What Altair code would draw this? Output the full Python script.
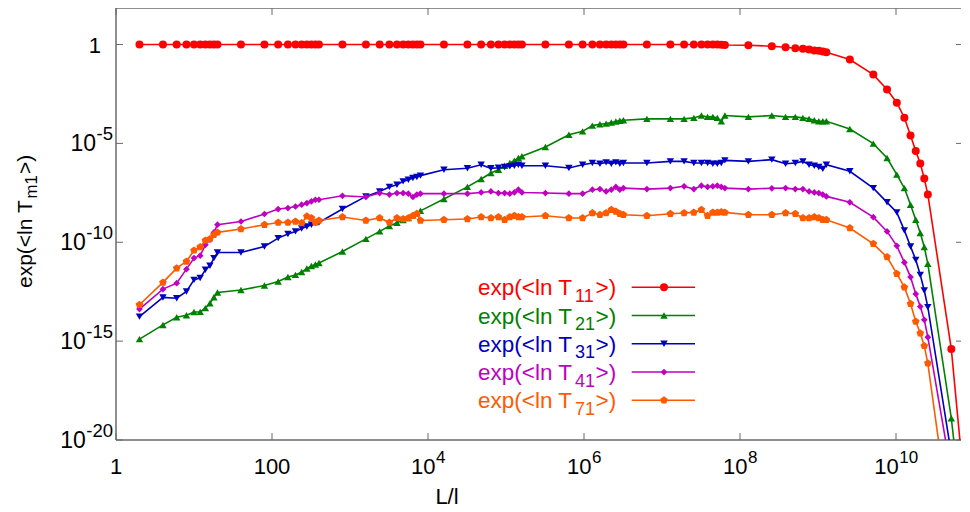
import altair as alt
import pandas as pd

# ---------------- data ----------------
L = [2, 4, 6, 8, 10, 12, 14, 16, 18, 20,
     40, 80, 120, 160, 200, 240, 280, 320, 360, 400,
     800, 1600, 2400, 3200, 4000, 4800, 5600, 6400, 7200, 8000,
     16000, 32000, 48000, 64000, 80000, 96000, 112000, 128000, 144000, 160000,
     320000, 640000, 960000, 1280000, 1600000, 1920000, 2240000, 2560000, 2880000, 3200000,
     6.4e6, 1.28e7, 1.92e7, 2.56e7, 3.2e7, 3.84e7, 4.48e7, 5.12e7, 5.76e7, 6.4e7,
     1.28e8, 2.56e8, 3.84e8, 5.12e8, 6.4e8, 7.68e8, 8.96e8, 1.024e9, 1.152e9, 1.28e9,
     2.56e9, 5.12e9, 7.68e9, 1.024e10, 1.28e10, 1.536e10, 1.792e10, 2.048e10, 2.304e10, 2.56e10,
     5.12e10, 1.024e11]

# log10 of exp(<ln T_m1>)
T11 = [0, 0, 0, 0, 0, 0, 0, 0, 0, 0,
       0, 0, 0, 0, 0, 0, 0, 0, 0, 0,
       0, 0, 0, 0, 0, 0, 0, 0, 0, 0,
       0, 0, 0, 0, 0, 0, 0, 0, 0, 0,
       0, 0, 0, 0, 0, 0, 0, 0, 0, 0,
       0, 0, 0, 0, 0, 0, 0, 0, -0.01, -0.02,
       -0.035, -0.086, -0.136, -0.187, -0.217, -0.25, -0.30, -0.32, -0.35, -0.39,
       -0.76, -1.52, -2.27, -2.94, -3.70, -4.60, -5.39, -6.01, -6.78, -7.58,
       -15.4, -28.0]
T21 = [-14.9, -14.18, -13.79, -13.69, -13.53, -13.52, -13.33, -13.08, -12.78, -12.54,
       -12.41, -12.19, -11.98, -11.76, -11.65, -11.5, -11.33, -11.2, -11.12, -11.05,
       -10.47, -9.83, -9.45, -9.18, -9.01, -8.87, -8.77, -8.63, -8.52, -8.41,
       -7.81, -7.2, -6.8, -6.5, -6.33, -6.13, -5.99, -5.87, -5.74, -5.65,
       -5.18, -4.56, -4.39, -4.10, -4.03, -4.0, -3.94, -3.89, -3.85, -3.83,
       -3.76, -3.76, -3.76, -3.71, -3.59, -3.66, -3.66, -3.71, -3.88, -3.59,
       -3.66, -3.59, -3.66, -3.66, -3.71, -3.76, -3.83, -3.88, -3.88, -3.88,
       -4.27, -5.01, -5.74, -6.58, -7.26, -8.10, -8.86, -9.53, -10.24, -11.09,
       -18.9, -29.5]
T31 = [-13.76, -12.79, -12.83, -12.49, -11.9, -11.81, -11.39, -11.19, -10.8, -10.52,
       -10.52, -10.21, -9.79, -9.58, -9.45, -9.3, -9.2, -9.11, -9.03, -9.0,
       -8.32, -7.68, -7.43, -7.2, -7.09, -6.92, -6.84, -6.75, -6.7, -6.63,
       -6.33, -6.26, -6.08, -6.26, -6.23, -6.19, -6.16, -6.13, -6.08, -6.13,
       -6.13, -6.24, -6.08, -5.99, -6.03, -5.96, -6.03, -5.96, -6.03, -5.99,
       -5.99, -5.91, -5.91, -5.99, -5.99, -5.99, -6.03, -6.03, -5.99, -5.86,
       -5.91, -5.82, -6.03, -5.99, -5.91, -6.08, -6.13, -6.19, -6.29, -6.08,
       -6.41, -7.26, -7.98, -8.49, -9.4, -10.21, -10.89, -11.65, -12.44, -13.28,
       -20.7]
T41 = [-13.38, -12.37, -12.07, -11.36, -10.8, -10.68, -10.13, -9.87, -9.5, -9.11,
       -8.95, -8.57, -8.32, -8.27, -8.19, -8.1, -8.02, -7.93, -7.85, -7.85,
       -7.65, -7.71, -7.51, -7.59, -7.51, -7.51, -7.54, -7.71, -7.59, -7.54,
       -7.54, -7.54, -7.48, -7.43, -7.51, -7.51, -7.54, -7.48, -7.34, -7.48,
       -7.51, -7.54, -7.54, -7.34, -7.31, -7.43, -7.34, -7.2, -7.34, -7.26,
       -7.31, -7.26, -7.17, -7.31, -7.14, -7.2, -7.17, -7.14, -7.2, -7.26,
       -7.31, -7.27, -7.26, -7.31, -7.31, -7.43, -7.48, -7.51, -7.59, -7.68,
       -7.98, -8.73, -9.45, -10.18, -11.02, -11.76, -12.61, -13.25, -13.92, -14.8,
       -21.7]
T71 = [-13.16, -12.03, -11.31, -10.97, -10.41, -10.24, -9.91, -9.84, -9.62, -9.5,
       -9.33, -9.11, -9.0, -9.0, -8.95, -9.03, -8.69, -8.77, -9.0, -8.9,
       -8.72, -8.9, -8.77, -9.0, -8.77, -8.82, -8.77, -8.66, -8.56, -8.9,
       -8.86, -8.82, -8.72, -8.77, -8.72, -8.86, -8.72, -8.66, -8.72, -8.72,
       -8.66, -8.77, -8.77, -8.52, -8.61, -8.52, -8.35, -8.44, -8.56, -8.61,
       -8.66, -8.56, -8.52, -8.49, -8.35, -8.66, -8.49, -8.49, -8.47, -8.49,
       -8.61, -8.61, -8.52, -8.56, -8.77, -8.77, -8.72, -8.77, -8.86, -8.86,
       -9.28, -10.08, -10.75, -11.59, -12.27, -13.11, -14.01, -14.6, -15.24, -16.12,
       -24.7]

SUBS = ["11", "21", "31", "41", "71"]
SERIES = [T11, T21, T31, T41, T71]
COLORS = ["#ff0000", "#008000", "#0000c0", "#c000c0", "#ff5a00"]
PENT = "M0,-1L0.951,-0.309L0.588,0.809L-0.588,0.809L-0.951,-0.309Z"
SHAPES = ["circle", "triangle-up", "triangle-down", "diamond", PENT]
SIZES = [64, 55, 55, 45, 64]

XT = [1, 100, 1e4, 1e6, 1e8, 1e10]
XT_BASE = ["1", "100", "10", "10", "10", "10"]
XT_EXP = ["", "", "4", "6", "8", "10"]
YT = [1, 1e-5, 1e-10, 1e-15, 1e-20]
YT_BASE = ["1", "10", "10", "10", "10"]
YT_EXP = ["", "-5", "-10", "-15", "-20"]

# ---------------- layout ----------------
W, H = 845, 432
XMAX = 10 ** (W / 78)
YMAX = 10 ** 1.848
FONT = "Liberation Sans"
FS = 22      # tick label font size
FSS = 17     # superscript size
YFS = 23     # y tick label size
YFSS = 18.5  # y superscript size
TFS = 21     # axis title size
LFS = 22.5   # legend font size
AX = "#6a6a6a"

def adv(s, f):
    w = {"-": 0.333, "m": 0.833}
    return sum(w.get(c, 0.556) for c in s) * f

xs = alt.Scale(type="log", domain=[1, XMAX], nice=False)
ys = alt.Scale(type="log", domain=[1e-20, YMAX], nice=False)
one = pd.DataFrame({"a": [0]})

layers = []

# frame (left, bottom, top)
layers.append(alt.Chart(one).mark_rule(color=AX, strokeWidth=1.5).encode(
    x=alt.value(0), x2=alt.value(W + 10), y=alt.value(0)))
layers.append(alt.Chart(one).mark_rule(color=AX, strokeWidth=1.5).encode(
    x=alt.value(0), x2=alt.value(W + 10), y=alt.value(H)))
layers.append(alt.Chart(one).mark_rule(color=AX, strokeWidth=1.5).encode(
    x=alt.value(0), y=alt.value(0), y2=alt.value(H)))

# ticks (inward)
xt_df = pd.DataFrame({"L": XT})
yt_df = pd.DataFrame({"y": YT})
layers.append(alt.Chart(xt_df).mark_rule(color=AX, strokeWidth=1).encode(
    x=alt.X("L:Q", scale=xs, axis=None), y=alt.value(H), y2=alt.value(H - 7)))
layers.append(alt.Chart(xt_df).mark_rule(color=AX, strokeWidth=1).encode(
    x=alt.X("L:Q", scale=xs, axis=None), y=alt.value(0), y2=alt.value(7)))
layers.append(alt.Chart(yt_df).mark_rule(color=AX, strokeWidth=1).encode(
    y=alt.Y("y:Q", scale=ys, axis=None), x=alt.value(0), x2=alt.value(7)))
layers.append(alt.Chart(yt_df).mark_rule(color=AX, strokeWidth=1).encode(
    y=alt.Y("y:Q", scale=ys, axis=None), x=alt.value(W - 5), x2=alt.value(W + 2)))

# x tick labels
for v, b, e in zip(XT, XT_BASE, XT_EXP):
    d = pd.DataFrame({"L": [v], "b": [b], "e": [e]})
    xe = alt.X("L:Q", scale=xs, axis=None)
    if e == "":
        layers.append(alt.Chart(d).mark_text(font=FONT, fontSize=FS, align="center",
                                             baseline="alphabetic", color="black").encode(
            x=xe, y=alt.value(H + 34), text="b:N"))
    else:
        off = (adv(b, FS) - adv(e, FSS)) / 2
        layers.append(alt.Chart(d).mark_text(font=FONT, fontSize=FS, align="right",
                                             baseline="alphabetic", dx=off, color="black").encode(
            x=xe, y=alt.value(H + 34), text="b:N"))
        layers.append(alt.Chart(d).mark_text(font=FONT, fontSize=FSS, align="left",
                                             baseline="alphabetic", dx=off + 0.5, color="black").encode(
            x=xe, y=alt.value(H + 23), text="e:N"))

# y tick labels
for v, b, e in zip(YT, YT_BASE, YT_EXP):
    d = pd.DataFrame({"y": [v], "b": [b], "e": [e]})
    ye = alt.Y("y:Q", scale=ys, axis=None)
    if e == "":
        layers.append(alt.Chart(d).mark_text(font=FONT, fontSize=FS, align="right",
                                             baseline="alphabetic", dy=8, color="black").encode(
            y=ye, x=alt.value(-15), text="b:N"))
    else:
        xr = -3 - adv(e, YFSS)
        layers.append(alt.Chart(d).mark_text(font=FONT, fontSize=YFS, align="right",
                                             baseline="alphabetic", dy=8, color="black").encode(
            y=ye, x=alt.value(xr - 0.5), text="b:N"))
        layers.append(alt.Chart(d).mark_text(font=FONT, fontSize=YFSS, align="left",
                                             baseline="alphabetic", dy=-3, color="black").encode(
            y=ye, x=alt.value(xr), text="e:N"))

# axis titles
layers.append(alt.Chart(pd.DataFrame({"t": ["L/l"]})).mark_text(
    font=FONT, fontSize=FS, align="center", baseline="alphabetic", color="black").encode(
    x=alt.value(331), y=alt.value(H + 64), text="t:N"))
ty0 = 280
p1 = "exp(<ln T"
layers.append(alt.Chart(pd.DataFrame({"t": [p1]})).mark_text(
    font=FONT, fontSize=TFS, align="left", baseline="alphabetic", angle=270, color="black").encode(
    x=alt.value(-84), y=alt.value(ty0), text="t:N"))
w1 = 4.196 * TFS + 1.5
layers.append(alt.Chart(pd.DataFrame({"t": ["m1"]})).mark_text(
    font=FONT, fontSize=TFS * 0.8, align="left", baseline="alphabetic", angle=270, color="black").encode(
    x=alt.value(-79), y=alt.value(ty0 - w1), text="t:N"))
w2 = adv("m1", TFS * 0.8) + 1
layers.append(alt.Chart(pd.DataFrame({"t": [">)"]})).mark_text(
    font=FONT, fontSize=TFS, align="left", baseline="alphabetic", angle=270, color="black").encode(
    x=alt.value(-84), y=alt.value(ty0 - w1 - w2), text="t:N"))

# series
for vals, col, shp, sz in zip(SERIES, COLORS, SHAPES, SIZES):
    df = pd.DataFrame({"L": L[:len(vals)], "y": [10 ** v for v in vals]})
    enc = dict(x=alt.X("L:Q", scale=xs, axis=None), y=alt.Y("y:Q", scale=ys, axis=None))
    layers.append(alt.Chart(df).mark_line(color=col, strokeWidth=1.6, clip=True).encode(**enc))
    layers.append(alt.Chart(df).mark_point(shape=shp, size=sz, filled=True, opacity=1,
                                           color=col, clip=True).encode(**enc))

# legend
LEG_X, LEG_Y0, LEG_DY = 362, 279.3, 28.25
for i, (s, col, shp, sz) in enumerate(zip(SUBS, COLORS, SHAPES, SIZES)):
    py = LEG_Y0 + i * LEG_DY
    d = pd.DataFrame({"a": ["exp(<ln T"], "s": [s], "c": [">)"]})
    layers.append(alt.Chart(d).mark_text(font=FONT, fontSize=LFS, align="left",
                                         baseline="alphabetic", color=col).encode(
        x=alt.value(LEG_X), y=alt.value(py + 8), text="a:N"))
    layers.append(alt.Chart(d).mark_text(font=FONT, fontSize=LFS * 0.8, align="left",
                                         baseline="alphabetic", color=col).encode(
        x=alt.value(LEG_X + 97), y=alt.value(py + 14.5), text="s:N"))
    layers.append(alt.Chart(d).mark_text(font=FONT, fontSize=LFS, align="left",
                                         baseline="alphabetic", color=col).encode(
        x=alt.value(LEG_X + 117.5), y=alt.value(py + 8), text="c:N"))
    layers.append(alt.Chart(d).mark_rule(color=col, strokeWidth=1.6).encode(
        x=alt.value(515.7), x2=alt.value(579), y=alt.value(py)))
    layers.append(alt.Chart(d).mark_point(shape=shp, size=sz, filled=True, opacity=1,
                                          color=col).encode(
        x=alt.value(548), y=alt.value(py)))

chart = alt.layer(*layers).properties(
    width=W, height=H,
    autosize=alt.AutoSizeParams(type="none"),
    padding={"left": 108, "top": 0, "right": 0, "bottom": 70},
    background="white",
).configure_view(stroke=None)

chart.save("out.html", embed_options={"renderer": "svg", "actions": False})
